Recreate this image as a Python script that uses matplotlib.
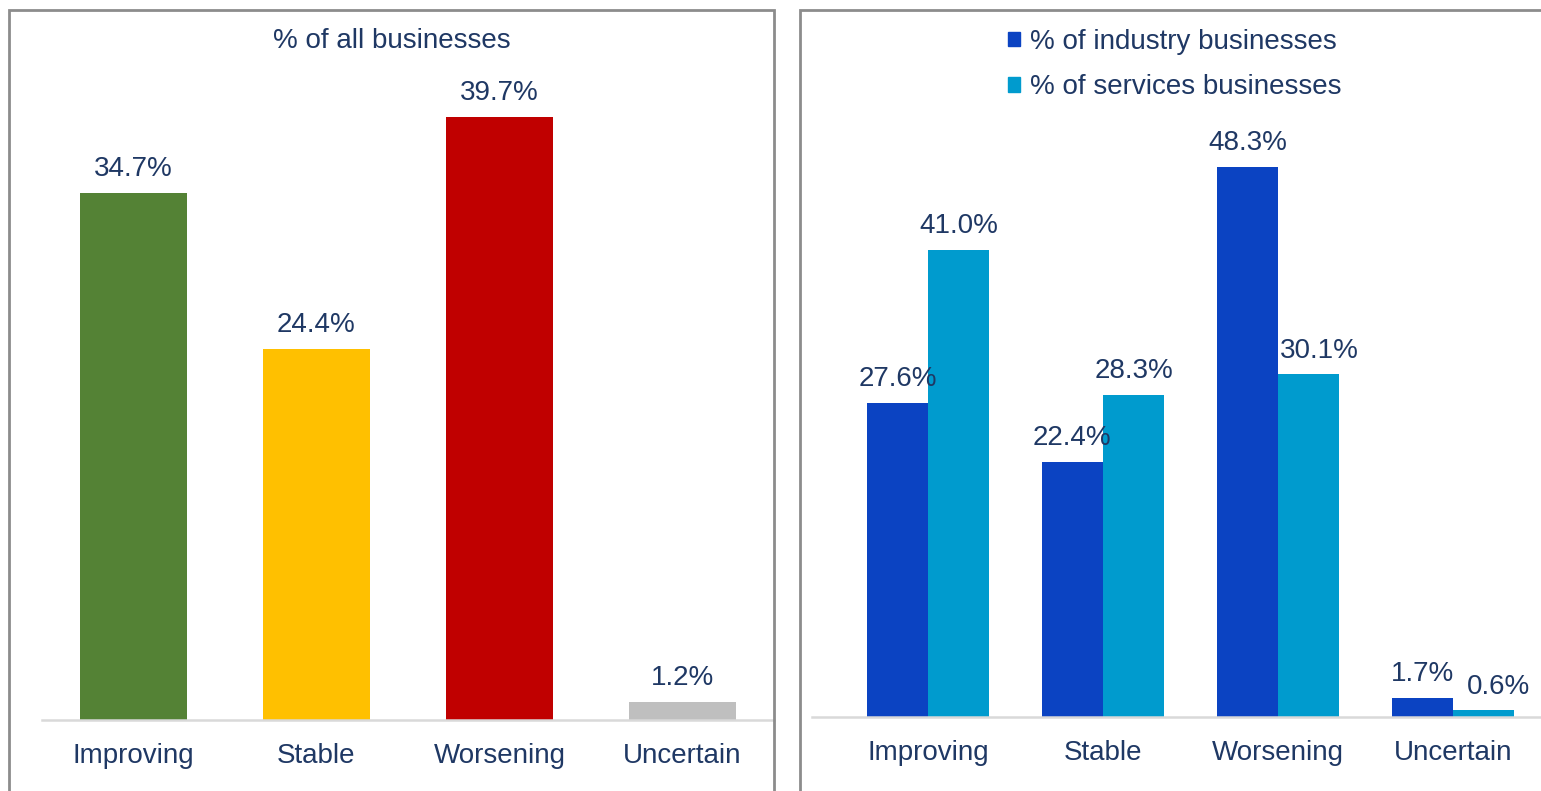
import matplotlib.pyplot as plt
from matplotlib.patches import Rectangle, Patch

# data
categorii = ['Improving', 'Stable', 'Worsening', 'Uncertain']
toate = [34.7, 24.4, 39.7, 1.2]
industrie = [27.6, 22.4, 48.3, 1.7]
servicii = [41.0, 28.3, 30.1, 0.6]

culori_toate = ['#548235', '#FFC000', '#C00000', '#BFBFBF']
c_ind = '#0B43C2'
c_serv = '#009BCE'
c_text = '#1F3864'

plt.rcParams['font.family'] = ['Liberation Sans', 'DejaVu Sans']
W, H = 1541, 791
fig = plt.figure(figsize=(W / 100, H / 100), dpi=100)

# chenare panouri
fig.patches.append(Rectangle((9 / W, -0.05), (774 - 9) / W, 1.05 - 10 / H,
                             transform=fig.transFigure, fill=False,
                             edgecolor='#8C8C8C', linewidth=2))
fig.patches.append(Rectangle((800 / W, -0.05), 0.6, 1.05 - 10 / H,
                             transform=fig.transFigure, fill=False,
                             edgecolor='#8C8C8C', linewidth=2))

def stil_axa(ax):
    for s in ['top', 'right', 'left']:
        ax.spines[s].set_visible(False)
    ax.spines['bottom'].set_color('#D9D9D9')
    ax.spines['bottom'].set_linewidth(1.8)
    ax.set_yticks([])
    ax.tick_params(axis='x', length=0, pad=16.5, labelsize=20, labelcolor=c_text)
    ax.set_facecolor('none')

# --- panou stanga ---
ax1 = fig.add_axes([42 / W, (H - 720) / H, (774 - 42) / W, 660 / H])
x = range(len(categorii))
bare = ax1.bar(x, toate, width=0.59, color=culori_toate)
for b, v in zip(bare, toate):
    ax1.annotate(f'{v:.1f}%', (b.get_x() + b.get_width() / 2, v),
                 xytext=(0, 12), textcoords='offset points',
                 ha='center', va='baseline', fontsize=20, color=c_text)
ax1.set_xlim(-0.5, 3.5)
ax1.set_ylim(0, 43.42)
ax1.set_xticks(list(x))
ax1.set_xticklabels(categorii)
stil_axa(ax1)
fig.text(392 / W, 1 - 41 / H, '% of all businesses', ha='center', va='center',
         fontsize=20, color=c_text)

# --- panou dreapta ---
ax2 = fig.add_axes([812 / W, (H - 717) / H, (1569 - 812) / W, 657 / H])
w = 0.35
xi = [i - w / 2 for i in x]
xs = [i + w / 2 for i in x]
b1 = ax2.bar(xi, industrie, width=w, color=c_ind, label='% of industry businesses')
b2 = ax2.bar(xs, servicii, width=w, color=c_serv, label='% of services businesses')
dx_serv = [0, 0, 8, 11]
for xx, v in zip(xi, industrie):
    ax2.annotate(f'{v:.1f}%', (xx, v), xytext=(0, 12), textcoords='offset points',
                 ha='center', va='baseline', fontsize=20, color=c_text)
for xx, v, d in zip(xs, servicii, dx_serv):
    ax2.annotate(f'{v:.1f}%', (xx, v), xytext=(d, 12), textcoords='offset points',
                 ha='center', va='baseline', fontsize=20, color=c_text)
ax2.set_xlim(-0.663, 3.663)
ax2.set_ylim(0, 57.7)
ax2.set_xticks(list(x))
ax2.set_xticklabels(categorii)
stil_axa(ax2)

leg = fig.legend(handles=[Patch(color=c_ind, label='% of industry businesses'),
                          Patch(color=c_serv, label='% of services businesses')],
                 loc='upper left', bbox_to_anchor=(1008 / W, 1 - 29 / H),
                 frameon=False, fontsize=20, handlelength=0.43, handleheight=0.43,
                 handletextpad=0.36, labelspacing=0.69, borderpad=0, borderaxespad=0)
for t in leg.get_texts():
    t.set_color(c_text)

fig.savefig('out.png', dpi=100)
